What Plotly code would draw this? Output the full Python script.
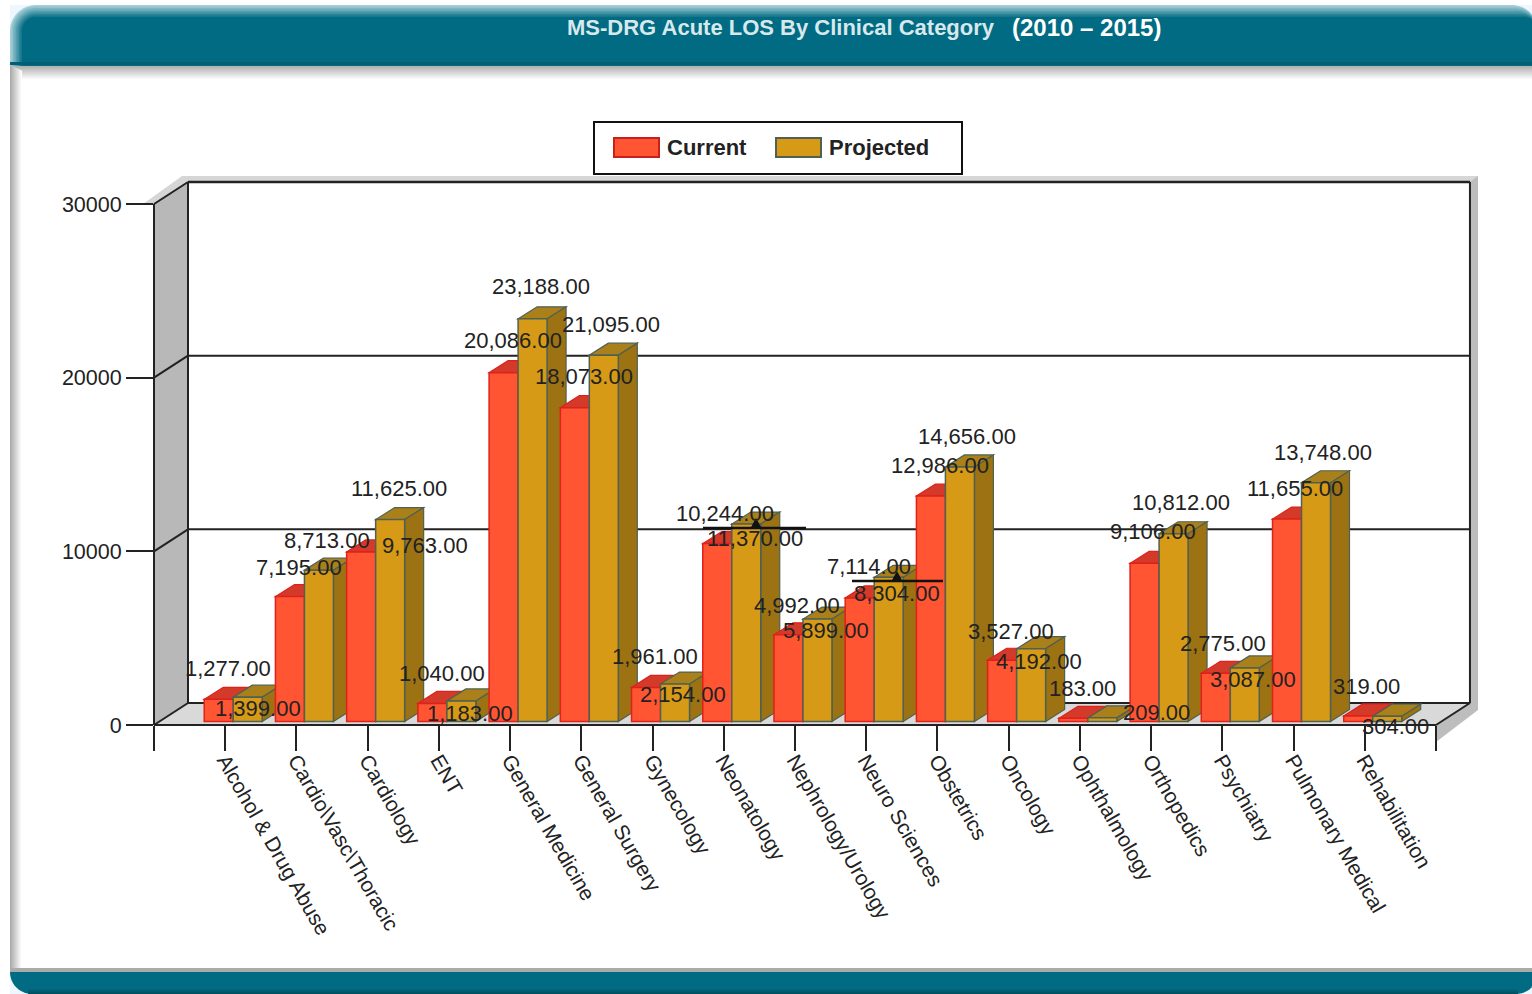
import math
import plotly.graph_objects as go

categories = ["Alcohol & Drug Abuse", "Cardio\\Vasc\\Thoracic", "Cardiology", "ENT", "General Medicine",
              "General Surgery", "Gynecology", "Neonatology", "Nephrology/Urology", "Neuro Sciences",
              "Obstetrics", "Oncology", "Ophthalmology", "Orthopedics", "Psychiatry", "Pulmonary Medical",
              "Rehabilitation"]
current = [1277, 7195, 9763, 1040, 20086, 18073, 1961, 10244, 4992, 7114, 12986, 3527, 183, 9106, 2775, 11655, 319]
projected = [1399, 8713, 11625, 1183, 23188, 21095, 2154, 11370, 5899, 8304, 14656, 4192, 209, 10812, 3087, 13748, 304]
y_ticks = [0, 10000, 20000, 30000]

# label placement (page pixels); kept apart from the data
cur_lab_px = [(228,669),(299,567),(425,545),(442,673),(513,341),(584,377),(655,657),(725,513),(797,605),(869,567),
              (940,465),(1011,631),(1082,689),(1153,531),(1223,643),(1295,489),(1366,687)]
pro_lab_px = [(258,709),(327,541),(399,489),(470,713),(541,287),(611,325),(683,695),(755,539),(826,631),(897,593),
              (967,437),(1039,661),(1156,713),(1181,503),(1253,679),(1323,453),(1395,727)]

W, H = 1532, 994
X0, UX = 154.0, 71.22          # pixel of x=0, pixels per category
Y0, UY = 725.0, 521.0 / 30000  # pixel of y=0, pixels per value unit
RIGHT, TOP = 1480.0, 176.0
WALL_DX, WALL_DY = 34.0, 22.0
BAR_DX, BAR_DY = 19.0, 12.0
BAR_W = 29.0 / UX
BASE = 3.5 / UY
GROUP_OFF = 8.0 / UX

px_x = lambda u: u / UX
px_y = lambda u: u / UY
xdata = lambda p: (p - X0) / UX
ydata = lambda p: (Y0 - p) / UY
to_px = lambda x, y: (X0 + x * UX, Y0 - y * UY)

TEAL = "#006B82"
PALE = "#EEF6FF"
FONT = "Liberation Sans, Arial, sans-serif"
INK = "#222222"

shapes, ann = [], []

def P(xs, ys):
    return "M" + " L".join(f"{x:.3f},{y:.3f}" for x, y in zip(xs, ys)) + " Z"

def poly(xs, ys, fill, line=None, lw=1, layer="below"):
    shapes.append(dict(type="path", xref="x", yref="y", path=P(xs, ys), fillcolor=fill,
                       line=dict(color=line or "rgba(0,0,0,0)", width=lw if line else 0), layer=layer))

def seg(x0, y0, x1, y1, color="#222222", lw=2, layer="below"):
    """Line given in data units, placed on the page so the plot area does not clip it."""
    shapes.append(dict(type="line", xref="paper", yref="paper",
                       x0=(X0 + x0 * UX) / W, x1=(X0 + x1 * UX) / W,
                       y0=1 - (Y0 - y0 * UY) / H, y1=1 - (Y0 - y1 * UY) / H,
                       line=dict(color=color, width=lw), layer=layer))

def prect(x0, y0, x1, y1, fill, line=None, lw=1, layer="below"):
    shapes.append(dict(type="rect", xref="paper", yref="paper", x0=x0 / W, x1=x1 / W,
                       y0=1 - y0 / H, y1=1 - y1 / H, fillcolor=fill,
                       line=dict(color=line or "rgba(0,0,0,0)", width=lw if line else 0), layer=layer))

def ppath(pts, fill, layer="below"):
    d = "M" + " L".join(f"{min(x, W) / W:.5f},{1 - y / H:.5f}" for x, y in pts) + " Z"
    shapes.append(dict(type="path", xref="paper", yref="paper", path=d, fillcolor=fill,
                       line=dict(width=0), layer=layer))

def wall(xs, ys, fill):
    ppath([to_px(x, y) for x, y in zip(xs, ys)], fill)

def mix(a, b, t):
    a = [int(a[i:i + 2], 16) for i in (1, 3, 5)]
    b = [int(b[i:i + 2], 16) for i in (1, 3, 5)]
    return "#" + "".join(f"{round(p + (q - p) * t):02x}" for p, q in zip(a, b))

# ---- page frame -----------------------------------------------------------
def band(y_top, y_bot, x_left, x_right, r, top=True):
    pts = []
    arc = [math.pi / 2 * k / 12 for k in range(13)]
    if top:
        pts.append((x_left, y_bot))
        pts += [(x_left + r - r * math.cos(a), y_top + r - r * math.sin(a)) for a in arc]
        pts += [(x_right - r + r * math.sin(a), y_top + r - r * math.cos(a)) for a in arc]
        pts.append((x_right, y_bot))
    else:
        pts.append((x_left, y_top))
        pts += [(x_left + r - r * math.cos(a), y_bot - r + r * math.sin(a)) for a in arc]
        pts += [(x_right - r + r * math.sin(a), y_bot - r + r * math.cos(a)) for a in arc]
        pts.append((x_right, y_top))
    return pts

prect(10, 5, 40, 40, PALE)
prect(1500, 5, W, 40, PALE)
prect(10, 972, 40, H, PALE)
prect(1500, 972, W, H, PALE)
for k in range(15):              # shadow under the header
    prect(10, 65 + k, W, 66 + k, mix("#ABABAB", "#FFFFFF", k / 14))
for k in range(12):              # left inner shadow
    prect(10 + k, 65 + (k / 2), 11 + k, 969, mix("#ABABAB", "#FFFFFF", k / 11))
# header
for k in range(9):
    ppath(band(5 + k * 1.5, 66, 10 + k * 1.5, W + 6, max(26 - k * 1.5, 10)), mix("#A6CFD8", TEAL, k / 8))
prect(10, 62, W, 65, "#005F73")
# footer
prect(10, 968, W, 972, "#ABABAB")
ppath(band(972, 994, 10, W + 6, 22, top=False), TEAL)
for k in range(6):
    prect(28, 988 + k, W - 14, 989 + k, mix(TEAL, "#00505F", k / 5))

ann.append(dict(xref="paper", yref="paper", x=565 / W, y=1 - 27 / H, xanchor="left", yanchor="middle",
                text="<b>MS-DRG Acute LOS By Clinical Category</b>", showarrow=False,
                font=dict(family=FONT, size=22, color="#D8E8EC")))
ann.append(dict(xref="paper", yref="paper", x=1010 / W, y=1 - 27 / H, xanchor="left", yanchor="middle",
                text="<b>(2010 – 2015)</b>", showarrow=False,
                font=dict(family=FONT, size=24, color="#FFFFFF")))

# ---- 3-D box --------------------------------------------------------------
wx, wy = px_x(WALL_DX), px_y(WALL_DY)
x_end = 18.0
y_top = 30000.0
ppath([(143, 204), (182, 176), (1478, 176), (1478, 182), (188, 182), (154, 204)], "#D6D6D6")
ppath([(1470, 182), (1478, 176), (1478, 710), (1436, 742), (1436, 725), (1470, 703)], "#BDBDBD")
wall([wx, x_end + wx, x_end + wx, wx], [wy, wy, y_top + wy, y_top + wy], "#FFFFFF")
wall([0, wx, wx, 0], [0, wy, y_top + wy, y_top], "#B8B8B8")
wall([0, x_end, x_end + wx, wx], [0, 0, wy, wy], "#D9D9D9")
for v in y_ticks[1:3]:
    seg(wx, v + wy, x_end + wx, v + wy)
    seg(0, v, wx, v + wy)
seg(wx, y_top + wy, x_end + wx, y_top + wy, lw=2.5)
seg(0, y_top, wx, y_top + wy)
seg(wx, wy, wx, y_top + wy)
seg(x_end + wx, wy, x_end + wx, y_top + wy)
seg(wx, wy, x_end + wx, wy)
seg(0, 0, wx, wy)
seg(x_end, 0, x_end + wx, wy)
seg(0, 0, x_end, 0, lw=2)
seg(0, 0, 0, y_top, lw=2)

# ---- bars: depth faces are derived from the values ----------------------------
bx, by = px_x(BAR_DX), px_y(BAR_DY)
x_cat = [i + 1 for i in range(len(categories))]
cx_cur = [c + GROUP_OFF - BAR_W / 2 for c in x_cat]
cx_pro = [c + GROUP_OFF + BAR_W / 2 for c in x_cat]
STYLE = {"cur": ("#FF5533", "#D43A2A", "#C93426", "#E0201A"), "pro": ("#D69A16", "#A9801A", "#9C7212", "#4F6152")}

def faces(cx, v, st):
    f, t, s, e = STYLE[st]
    l, r = cx - BAR_W / 2, cx + BAR_W / 2
    top = v + BASE
    poly([l, r, r + bx, l + bx], [top, top, top + by, top + by], t, e, 1.2)
    poly([r, r + bx, r + bx, r], [BASE, BASE + by, top + by, top], s, e, 1.2)

for i in range(len(categories)):
    faces(cx_cur[i], current[i], "cur")
    faces(cx_pro[i], projected[i], "pro")

fig = go.Figure()
fig.add_bar(name="Current", x=cx_cur, y=current, base=BASE, width=BAR_W, showlegend=False,
            marker=dict(color=STYLE["cur"][0], line=dict(color=STYLE["cur"][3], width=1.5)),
            customdata=categories, hovertemplate="%{customdata}: %{y}<extra>Current</extra>")
fig.add_bar(name="Projected", x=cx_pro, y=projected, base=BASE, width=BAR_W, showlegend=False,
            marker=dict(color=STYLE["pro"][0], line=dict(color=STYLE["pro"][3], width=1.5)),
            customdata=categories, hovertemplate="%{customdata}: %{y}<extra>Projected</extra>")

# value labels anchored on the bar tops
def label(cx, v, target):
    bar_px_x = X0 + cx * UX
    bar_px_y = Y0 - (v + BASE) * UY
    ann.append(dict(x=cx, y=v + BASE, xref="x", yref="y", text=f"{v:,.2f}", showarrow=False,
                    xanchor="center", yanchor="middle",
                    xshift=target[0] - bar_px_x, yshift=bar_px_y - target[1],
                    font=dict(family=FONT, size=22, color=INK)))

for i in range(len(categories)):
    label(cx_cur[i], current[i], cur_lab_px[i])
    label(cx_pro[i], projected[i], pro_lab_px[i])

# stray black markers seen over Neonatology and Neuro Sciences
for (a, b, ym, mid) in [(703, 806, 528, 756), (852, 943, 581, 897)]:
    seg(xdata(a), ydata(ym), xdata(b), ydata(ym), color="#111111", lw=2.5, layer="above")
    poly([xdata(mid - 6), xdata(mid + 6), xdata(mid)], [ydata(ym + 1), ydata(ym + 1), ydata(ym - 10)],
         "#111111", layer="above")

# ---- legend ----------------------------------------------------------------
prect(594, 122, 962, 174, "#FFFFFF", "#111111", 2)
for (x0, x1, fill, edge, x_t, name) in [(614, 659, "#FF5533", "#C8201A", 665, "Current"),
                                        (776, 821, "#D69A16", "#4F6152", 827, "Projected")]:
    shapes.append(dict(type="rect", xref="paper", yref="paper", x0=x0 / W, x1=x1 / W, y0=1 - 138 / H, y1=1 - 157 / H,
                       fillcolor=fill, line=dict(color=edge, width=2)))
    ann.append(dict(xref="paper", yref="paper", x=x_t / W, y=1 - 147 / H, xanchor="left", yanchor="middle",
                    text=f"<b>{name}</b>", showarrow=False, font=dict(family=FONT, size=22, color=INK)))

fig.update_layout(
    width=W, height=H, autosize=False, margin=dict(l=0, r=0, t=0, b=0),
    paper_bgcolor="#FFFFFF", plot_bgcolor="rgba(0,0,0,0)", barmode="overlay",
    shapes=shapes, annotations=ann, showlegend=False,
    font=dict(family=FONT, color=INK),
    xaxis=dict(domain=[X0 / W, RIGHT / W], range=[0, (RIGHT - X0) / UX], showgrid=False, zeroline=False,
               showline=False, ticks="outside", ticklen=25, tickwidth=2, tickcolor="#222222",
               tickmode="array", tickvals=[0] + x_cat + [18], ticktext=[""] + categories + [""],
               tickangle=60, ticklabelstandoff=-11, tickfont=dict(family=FONT, size=21, color=INK), automargin=False),
    yaxis=dict(domain=[1 - Y0 / H, 1 - TOP / H], range=[0, (Y0 - TOP) / UY], showgrid=False, zeroline=False,
               showline=False, ticks="outside", ticklen=27, tickwidth=2, tickcolor="#222222",
               tickmode="array", tickvals=y_ticks, ticktext=[str(v) for v in y_ticks],
               tickfont=dict(family=FONT, size=21.5, color=INK), automargin=False),
)
fig.write_html("out.html", config={"displayModeBar": False},
               post_script="document.body.style.margin='0';document.documentElement.style.overflow='hidden';")
